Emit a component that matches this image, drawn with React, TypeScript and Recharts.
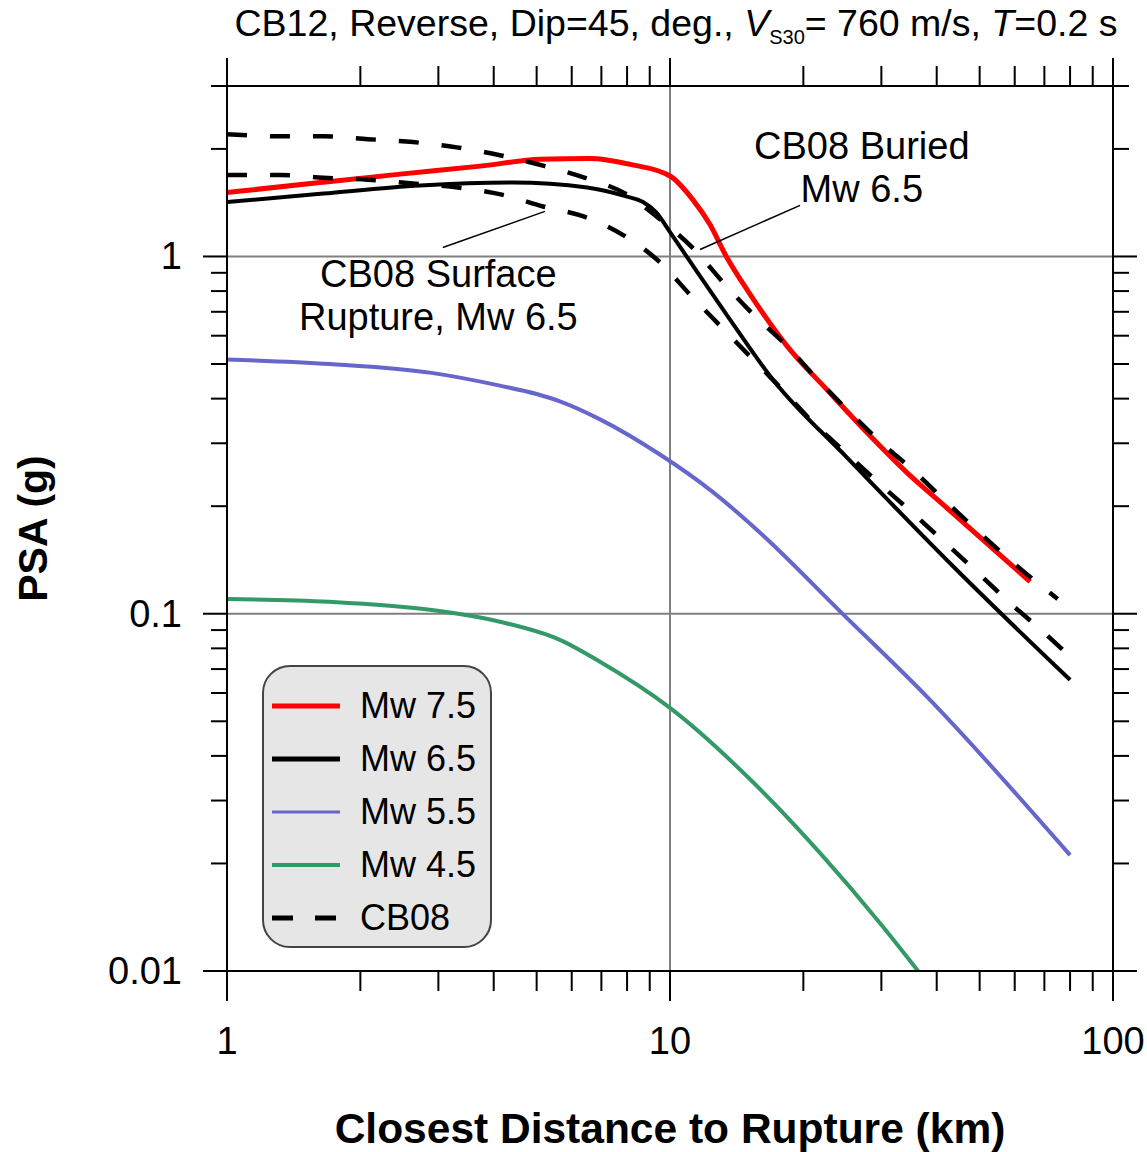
import { LineChart, Line, XAxis, YAxis, ReferenceLine, ReferenceDot, Legend } from 'recharts'

const FONT = '"Liberation Sans", Arial, Helvetica, sans-serif'

// axis ticks (log decades)
const xTicks = [1, 2, 3, 4, 5, 6, 7, 8, 9, 10, 20, 30, 40, 50, 60, 70, 80, 90, 100]
const xMajor = [1, 10, 100]
const yTicks = [
  0.01, 0.02, 0.03, 0.04, 0.05, 0.06, 0.07, 0.08, 0.09,
  0.1, 0.2, 0.3, 0.4, 0.5, 0.6, 0.7, 0.8, 0.9,
  1, 2, 3,
]
const yMajor = [0.01, 0.1, 1]
const gridX = [10]
const gridY = [1, 0.1]

// CB12 curves, distance (km) vs PSA (g)
const mw75Dist = [1, 1.62, 2.46, 3.73, 5.09, 6.6, 8.13, 10, 11.27, 12.3, 13.4, 15.1, 18.4, 22.6, 27.8, 34.3, 40.1, 65]
const mw75Psa = [1.51, 1.61, 1.7, 1.79, 1.87, 1.88, 1.81, 1.68, 1.44, 1.23, 1.0, 0.79, 0.56, 0.424, 0.322, 0.248, 0.209, 0.123]

const mw65Dist = [1, 1.65, 2.73, 4.42, 6.5, 8.0, 8.69, 9.3, 10, 11.7, 13.66, 17.08, 25.1, 45.1, 80]
const mw65Psa = [1.42, 1.5, 1.58, 1.61, 1.56, 1.47, 1.42, 1.33, 1.17, 0.879, 0.666, 0.452, 0.2735, 0.13, 0.0653]

const mw55Dist = [1, 1.71, 2.87, 4.13, 5.0, 5.64, 6.95, 9.49, 12.44, 15.97, 24.4, 38.0, 80]
const mw55Psa = [0.515, 0.5, 0.473, 0.435, 0.412, 0.393, 0.35, 0.279, 0.22, 0.1686, 0.1006, 0.0586, 0.0211]

const mw45Dist = [1, 1.7, 2.87, 4.13, 5.64, 6.95, 10, 15.2, 21.8, 29.8, 36.3]
const mw45Psa = [0.11, 0.108, 0.1026, 0.095, 0.0845, 0.0734, 0.0545, 0.0343, 0.0214, 0.0136, 0.01]

// CB08 Mw 6.5 (dashed)
const cb08BuriedDist = [1, 1.32, 1.65, 2.08, 2.63, 3.3, 4.13, 5.22, 6.43, 8.0, 9.5, 11.4, 13.3, 15.5, 18.4, 21.4, 25.2, 29.8, 35.4, 41.8, 49.6, 59.1, 75]
const cb08BuriedPsa = [2.2, 2.17, 2.17, 2.13, 2.09, 2.02, 1.92, 1.79, 1.66, 1.49, 1.27, 1.04, 0.835, 0.684, 0.56, 0.456, 0.371, 0.303, 0.252, 0.207, 0.17, 0.14, 0.11]

const cb08SurfaceDist = [1, 1.32, 1.65, 2.08, 2.63, 3.32, 4.17, 5.17, 6.43, 7.91, 9.5, 11.15, 13.17, 15.56, 18.18, 21.03, 24.8, 29.5, 35.2, 41.8, 49.6, 58.6, 69.5, 80]
const cb08SurfacePsa = [1.69, 1.69, 1.66, 1.64, 1.6, 1.56, 1.49, 1.38, 1.29, 1.14, 0.962, 0.777, 0.628, 0.508, 0.416, 0.343, 0.284, 0.233, 0.192, 0.158, 0.13, 0.107, 0.0891, 0.0758]

// annotations: [x, y] in data units
const surfaceLabelAt = [3.0, 0.819]
const surfaceLabelLines = ['CB08 Surface', 'Rupture, Mw 6.5']
const surfaceLeader = [[3.07, 1.06], [5.22, 1.337]]
const buriedLabelAt = [27.1, 1.87]
const buriedLabelLines = ['CB08 Buried', 'Mw 6.5']
const buriedLeader = [[19.66, 1.39], [11.69, 1.046]]

const zip = (d: number[], p: number[]) => d.map((x, i) => ({ x, y: p[i] }))

const series = [
  { key: 'mw45', name: 'Mw 4.5', color: '#339966', width: 4, data: zip(mw45Dist, mw45Psa) },
  { key: 'mw55', name: 'Mw 5.5', color: '#6666cc', width: 4, data: zip(mw55Dist, mw55Psa) },
  { key: 'mw65', name: 'Mw 6.5', color: '#000000', width: 4, data: zip(mw65Dist, mw65Psa) },
  { key: 'mw75', name: 'Mw 7.5', color: '#ff0000', width: 5, data: zip(mw75Dist, mw75Psa) },
  { key: 'cb08b', name: 'CB08', color: '#000000', width: 4.5, dash: '20 23', data: zip(cb08BuriedDist, cb08BuriedPsa) },
  { key: 'cb08s', name: 'CB08 surface', color: '#000000', width: 4.5, dash: '20 23', data: zip(cb08SurfaceDist, cb08SurfacePsa) },
]

const legendItems = [
  { name: 'Mw 7.5', color: '#ff0000', width: 5 },
  { name: 'Mw 6.5', color: '#000000', width: 5 },
  { name: 'Mw 5.5', color: '#6666cc', width: 3 },
  { name: 'Mw 4.5', color: '#339966', width: 4 },
  { name: 'CB08', color: '#000000', width: 5, dash: '21 22' },
]

function BottomTick({ x, y, payload }: any) {
  const major = xMajor.includes(payload.value)
  return (
    <g>
      <line x1={x} x2={x} y1={y} y2={y + (major ? 30 : 20)} stroke="#000" strokeWidth={2} />
      {major && (
        <text x={x} y={y + 83} textAnchor="middle" fontSize={38} fontFamily={FONT} fill="#000">
          {payload.value}
        </text>
      )}
    </g>
  )
}

function TopTick({ x, y, payload }: any) {
  const major = xMajor.includes(payload.value)
  return <line x1={x} x2={x} y1={y - (major ? 28 : 20)} y2={y} stroke="#000" strokeWidth={2} />
}

function LeftTick({ x, y, payload }: any) {
  const major = yMajor.includes(payload.value)
  return (
    <g>
      <line x1={x - (major ? 24 : 16)} x2={x} y1={y} y2={y} stroke="#000" strokeWidth={2} />
      {major && (
        <text x={x - 45} y={y + 13} textAnchor="end" fontSize={38} fontFamily={FONT} fill="#000">
          {payload.value}
        </text>
      )}
    </g>
  )
}

function RightTick({ x, y, payload }: any) {
  const major = yMajor.includes(payload.value)
  return <line x1={x} x2={x + (major ? 24 : 16)} y1={y} y2={y} stroke="#000" strokeWidth={2} />
}

function TitleText({ viewBox }: any) {
  const cx = viewBox.x + viewBox.width / 2 + 6
  return (
    <text x={cx} y={36} textAnchor="middle" fontSize={37.5} fontFamily={FONT} fill="#000">
      CB12, Reverse, Dip=45, deg.,{' '}
      <tspan fontStyle="italic">V</tspan>
      <tspan fontSize={20} dy={8}>S30</tspan>
      <tspan dy={-8}>= 760 m/s, </tspan>
      <tspan fontStyle="italic">T</tspan>
      <tspan>=0.2 s</tspan>
    </text>
  )
}

function XTitle({ viewBox }: any) {
  return (
    <text x={viewBox.x + viewBox.width / 2} y={viewBox.y + 172} textAnchor="middle" fontSize={42.5} fontWeight="bold" fontFamily={FONT} fill="#000">
      Closest Distance to Rupture (km)
    </text>
  )
}

function YTitle({ viewBox }: any) {
  const cx = 47
  const cy = viewBox.y + viewBox.height / 2
  return (
    <text x={cx} y={cy} transform={`rotate(-90, ${cx}, ${cy})`} textAnchor="middle" fontSize={41} fontWeight="bold" fontFamily={FONT} fill="#000">
      PSA (g)
    </text>
  )
}

function annotShape(lines: string[]) {
  return (p: any) => (
    <text x={p.cx} y={p.cy} textAnchor="middle" fontSize={38} fontFamily={FONT} fill="#000">
      {lines.map((l, i) => (
        <tspan key={l} x={p.cx} dy={i === 0 ? 0 : 43}>{l}</tspan>
      ))}
    </text>
  )
}

function LegendBox() {
  return (
    <div
      style={{
        boxSizing: 'border-box', width: 230, height: 283, border: '2px solid #444',
        borderRadius: 28, background: '#e6e6e6', padding: '12px 0 0 8px', fontFamily: FONT,
      }}
    >
      {legendItems.map((it) => (
        <div key={it.name} style={{ display: 'flex', alignItems: 'center', height: 53 }}>
          <svg width={68} height={10} style={{ display: 'block' }}>
            <line x1={0} x2={68} y1={5} y2={5} stroke={it.color} strokeWidth={it.width} strokeDasharray={it.dash} />
          </svg>
          <span style={{ marginLeft: 20, fontSize: 36, color: '#000', lineHeight: 1 }}>{it.name}</span>
        </div>
      ))}
    </div>
  )
}

export default function App() {
  return (
    <div style={{ position: 'absolute', left: 0, top: 0, width: 1147, height: 1152, background: '#fff' }}>
      <LineChart width={1147} height={1152} margin={{ top: 0, right: 0, bottom: 0, left: 0 }} style={{ fontFamily: FONT }}>
        <XAxis
          xAxisId="bottom" dataKey="x" type="number" scale="log" domain={[1, 100]} allowDataOverflow
          ticks={xTicks} interval={0} height={181} tickSize={0} tickMargin={0} tickLine={false}
          axisLine={{ stroke: '#000', strokeWidth: 2 }} tick={(p: any) => <BottomTick {...p} />}
          label={<XTitle />}
        />
        <XAxis
          xAxisId="top" orientation="top" dataKey="x" type="number" scale="log" domain={[1, 100]} allowDataOverflow
          ticks={xTicks} interval={0} height={86} tickSize={0} tickMargin={0} tickLine={false}
          axisLine={{ stroke: '#000', strokeWidth: 2 }} tick={(p: any) => <TopTick {...p} />}
          label={<TitleText />}
        />
        <YAxis
          yAxisId="left" type="number" scale="log" domain={[0.01, 3]} allowDataOverflow
          ticks={yTicks} interval={0} width={227} tickSize={0} tickMargin={0} tickLine={false}
          axisLine={{ stroke: '#000', strokeWidth: 2 }} tick={(p: any) => <LeftTick {...p} />}
          label={<YTitle />}
        />
        <YAxis
          yAxisId="right" orientation="right" type="number" scale="log" domain={[0.01, 3]} allowDataOverflow
          ticks={yTicks} interval={0} width={34} tickSize={0} tickMargin={0} tickLine={false}
          axisLine={{ stroke: '#000', strokeWidth: 2 }} tick={(p: any) => <RightTick {...p} />}
        />

        {gridX.map((v) => (
          <ReferenceLine key={`gx${v}`} xAxisId="bottom" yAxisId="left" x={v} stroke="#808080" strokeWidth={2} />
        ))}
        {gridY.map((v) => (
          <ReferenceLine key={`gy${v}`} xAxisId="bottom" yAxisId="left" y={v} stroke="#808080" strokeWidth={2} />
        ))}

        {series.map((s) => (
          <Line
            key={s.key} xAxisId="bottom" yAxisId="left" data={s.data} dataKey="y" name={s.name}
            type="monotone" stroke={s.color} strokeWidth={s.width} strokeDasharray={s.dash}
            dot={false} activeDot={false} isAnimationActive={false} legendType="none"
          />
        ))}

        <ReferenceLine
          xAxisId="bottom" yAxisId="left" stroke="#000" strokeWidth={1.5}
          segment={surfaceLeader.map(([x, y]) => ({ x, y }))}
        />
        <ReferenceLine
          xAxisId="bottom" yAxisId="left" stroke="#000" strokeWidth={1.5}
          segment={buriedLeader.map(([x, y]) => ({ x, y }))}
        />
        <ReferenceDot
          xAxisId="bottom" yAxisId="left" x={surfaceLabelAt[0]} y={surfaceLabelAt[1]}
          r={1} shape={annotShape(surfaceLabelLines)}
        />
        <ReferenceDot
          xAxisId="bottom" yAxisId="left" x={buriedLabelAt[0]} y={buriedLabelAt[1]}
          r={1} shape={annotShape(buriedLabelLines)}
        />

        <Legend
          layout="vertical" align="center" verticalAlign="middle"
          content={() => <LegendBox />}
          wrapperStyle={{ left: 262, top: 665, width: 230, height: 283 }}
        />
      </LineChart>
    </div>
  )
}
